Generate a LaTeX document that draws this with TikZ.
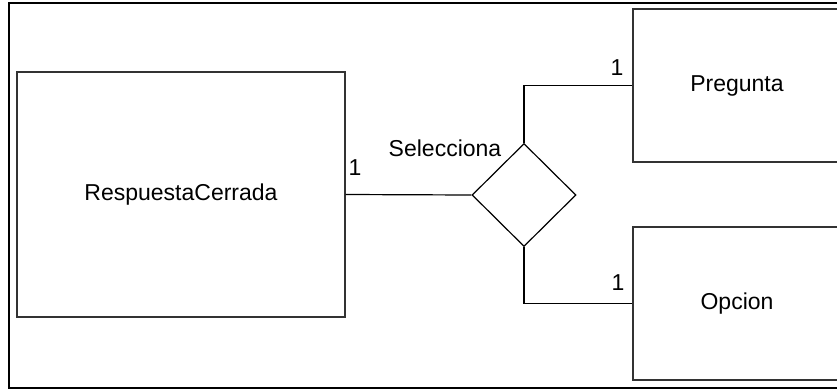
\documentclass[tikz,border=0pt]{standalone}
\usepackage{fontspec}
\setmainfont{Liberation Sans}
\usetikzlibrary{positioning,shapes.geometric}

\begin{document}
\begin{tikzpicture}[
  x=1pt, y=-1pt,
  every node/.style = {font=\fontsize{23}{27}\selectfont},
  entity/.style = {draw=black!80, line width=1.2pt, rectangle, inner sep=0pt},
  rel/.style    = {draw, line width=1.2pt, diamond, aspect=1, inner sep=0pt,
                   minimum width=104pt, minimum height=103pt},
  card/.style   = {inner sep=0pt},
  link/.style   = {line width=1.2pt}
]

\clip (0,0) rectangle (837,391);
\draw[line width=2pt] (9,3) rectangle (870,388);

\node[entity, minimum width=328pt, minimum height=245pt] (resp) at (181,194.5) {RespuestaCerrada};
\node[rel] (sel) at (524,195) {};
\node[entity, minimum width=208pt, minimum height=153pt] (preg) at (737,85.5) {Pregunta};
\node[entity, minimum width=208pt, minimum height=153pt] (opc)  at (737,303.5) {Opcion};

\draw[link] (resp.east) -- (sel.west);
\draw[link] (sel.north) |- (preg.west);
\draw[link] (sel.south) |- (opc.west);

\node (selname) at (445,148) {Selecciona};
\node[card] (cresp) at (355,168) {1};
\node[card] (cpreg) at (617,68)  {1};
\node[card] (copc)  at (618,283) {1};

\end{tikzpicture}
\end{document}
